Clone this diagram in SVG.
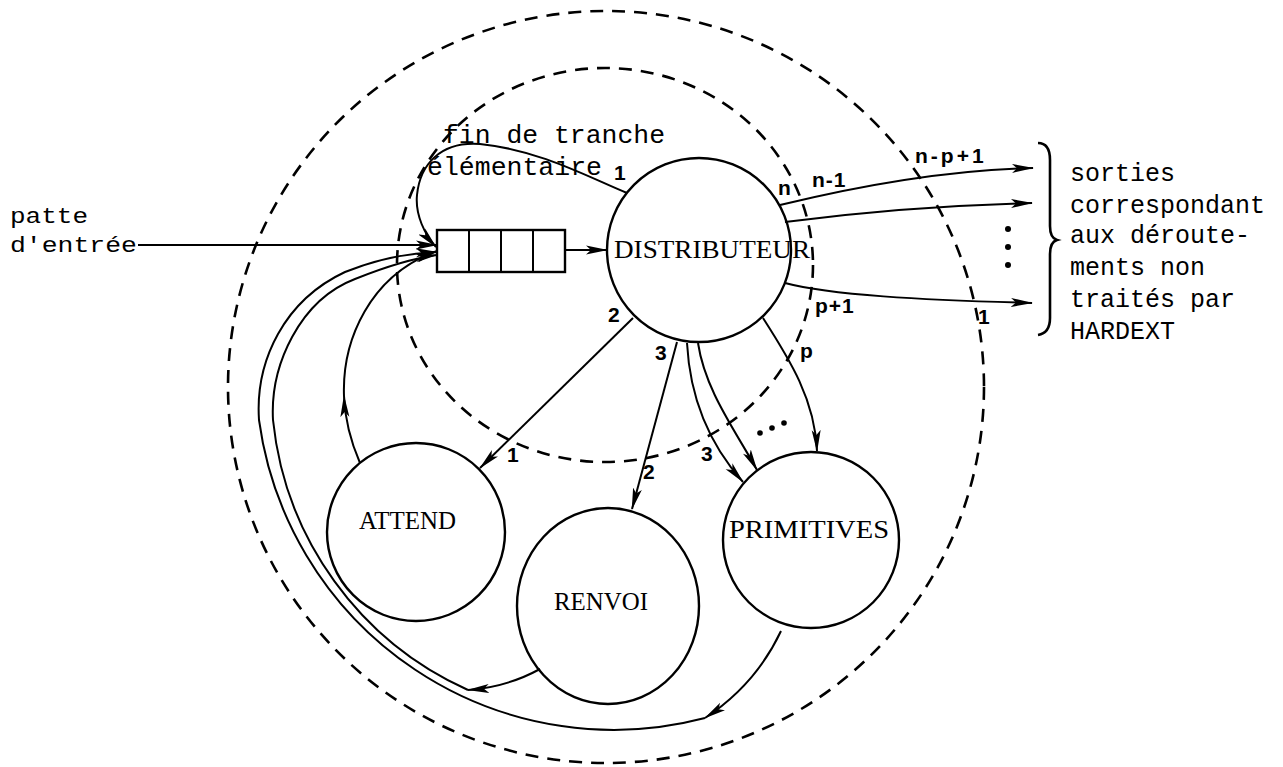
<svg xmlns="http://www.w3.org/2000/svg" width="1283" height="767" viewBox="0 0 1283 767">
<style>
.bg{fill:#fff}
.dash{fill:none;stroke:#000;stroke-width:2.6;stroke-dasharray:13 9}
.node{fill:none;stroke:#000;stroke-width:2.4}
.ln{fill:none;stroke:#000;stroke-width:2}
.arr{fill:none;stroke:#000;stroke-width:2;marker-end:url(#ah)}
.cap{font-family:"Liberation Serif","Times New Roman",serif;font-size:25px;fill:#000}
.mono{font-family:"Liberation Mono","Courier New",monospace;font-size:25px;fill:#000}
.hand{font-family:"Liberation Sans",Arial,sans-serif;font-weight:bold;font-size:21px;fill:#000}
.dot{fill:#000}
</style>
<defs>
<marker id="ah" viewBox="0 0 22 10" refX="21" refY="5" markerWidth="22" markerHeight="10" markerUnits="userSpaceOnUse" orient="auto">
<path d="M0,0.5 L22,5 L0,9.5 L5,5 z" fill="#000"/>
</marker>
</defs>
<rect class="bg" x="0" y="0" width="1283" height="767"/>

<g id="boundaries">
<ellipse class="dash" cx="606" cy="387" rx="378" ry="376"/>
<ellipse class="dash" cx="605" cy="265" rx="208" ry="197"/>
</g>

<g id="connectors">
<path class="arr" d="M 138 245 L 437 245"/>
<path class="arr" d="M 565 250 L 607 250"/>
<path class="arr" d="M 627 193 C 590 178, 540 150, 480 144 C 440 141, 420 165, 417 195 C 415 215, 425 235, 436 247"/>
<path class="arr" d="M 780 205 C 850 188, 940 170, 1033 168"/>
<path class="arr" d="M 785 222 C 860 212, 950 205, 1032 203"/>
<path class="arr" d="M 785 283 C 830 295, 920 300, 1032 303"/>
<path class="arr" d="M 633 318 L 480 468"/>
<path class="arr" d="M 677 342 L 632 509"/>
<path class="arr" d="M 687 343 C 690 400, 710 445, 743 482"/>
<path class="arr" d="M 698 343 C 705 390, 735 430, 757 470"/>
<path class="arr" d="M 763 318 C 790 360, 815 400, 817 451"/>
<path class="arr" d="M 360 463 C 350 440, 345 420, 344 396"/>
<path class="arr" d="M 344 396 C 342 340, 370 275, 437 251"/>
<path class="arr" d="M 540 669 C 520 680, 495 688, 468 690"/>
<path class="arr" d="M 468 690 A 333 333 0 0 1 273 420 C 270 365, 300 300, 355 279 C 390 265, 415 258, 437 255"/>
<path class="arr" d="M 781 631 C 765 665, 740 695, 705 718"/>
<path class="arr" d="M 705 718 A 358 358 0 0 1 259 420 C 255 360, 285 300, 345 272 C 380 258, 410 253, 437 252"/>
</g>

<g id="queue">
<rect class="node" x="437" y="230" width="128" height="42"/>
<line class="ln" x1="469" y1="230" x2="469" y2="272"/>
<line class="ln" x1="501" y1="230" x2="501" y2="272"/>
<line class="ln" x1="533" y1="230" x2="533" y2="272"/>
</g>

<g id="distributeur">
<circle class="node" cx="699" cy="250" r="92"/>
<text class="cap" x="614" y="258" textLength="196" lengthAdjust="spacingAndGlyphs">DISTRIBUTEUR</text>
</g>

<g id="attend">
<circle class="node" cx="416" cy="532" r="89"/>
<text class="cap" x="359" y="529" textLength="97" lengthAdjust="spacingAndGlyphs">ATTEND</text>
</g>

<g id="renvoi">
<ellipse class="node" cx="608" cy="606" rx="91" ry="98"/>
<text class="cap" x="554" y="610" textLength="94" lengthAdjust="spacingAndGlyphs">RENVOI</text>
</g>

<g id="primitives">
<circle class="node" cx="811" cy="540" r="88"/>
<text class="cap" x="729" y="538" textLength="160" lengthAdjust="spacingAndGlyphs">PRIMITIVES</text>
</g>

<g id="labels">
<text class="mono" style="font-size:22px" x="10" y="223" textLength="78" lengthAdjust="spacingAndGlyphs">patte</text>
<text class="mono" style="font-size:22px" x="10" y="252" textLength="127" lengthAdjust="spacingAndGlyphs">d'entrée</text>
<text class="mono" x="443" y="143" textLength="222" lengthAdjust="spacingAndGlyphs">fin de tranche</text>
<text class="mono" x="427" y="175" textLength="175" lengthAdjust="spacingAndGlyphs">élémentaire</text>
<text class="hand" x="614" y="180">1</text>
<text class="hand" x="778" y="195">n</text>
<text class="hand" x="812" y="187" letter-spacing="1">n-1</text>
<text class="hand" x="915" y="163" letter-spacing="3">n-p+1</text>
<text class="hand" x="815" y="313" letter-spacing="1">p+1</text>
<text class="hand" x="978" y="324">1</text>
<text class="hand" x="608" y="322">2</text>
<text class="hand" x="655" y="360">3</text>
<text class="hand" x="800" y="358">p</text>
<text class="hand" x="507" y="462">1</text>
<text class="hand" x="643" y="479">2</text>
<text class="hand" x="701" y="461">3</text>
<circle class="dot" cx="760" cy="433" r="2.8"/>
<circle class="dot" cx="772" cy="428" r="2.8"/>
<circle class="dot" cx="784" cy="423" r="2.8"/>
<circle class="dot" cx="1008" cy="229" r="3"/>
<circle class="dot" cx="1008" cy="247" r="3"/>
<circle class="dot" cx="1008" cy="265" r="3"/>
<path class="ln" style="stroke-width:2.6" d="M 1038 143 Q 1050 143 1050 160 L 1050 226 Q 1050 238 1057 240 Q 1050 242 1050 254 L 1050 318 Q 1050 333 1038 335"/>
<text class="mono" x="1070" y="181">sorties</text>
<text class="mono" x="1070" y="213">correspondant</text>
<text class="mono" x="1070" y="243">aux déroute-</text>
<text class="mono" x="1070" y="275">ments non</text>
<text class="mono" x="1070" y="307">traités par</text>
<text class="mono" x="1070" y="339">HARDEXT</text>
</g>
</svg>
